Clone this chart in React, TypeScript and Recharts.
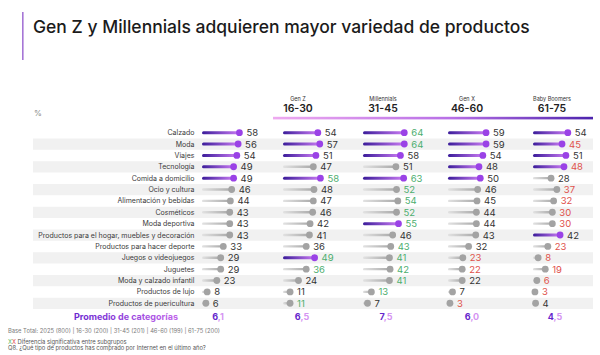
import React from 'react';
import { ComposedChart, Bar, XAxis, YAxis, ReferenceArea } from 'recharts';

// ---------------- data ----------------
const categories = [
  'Calzado',
  'Moda',
  'Viajes',
  'Tecnología',
  'Comida a domicilio',
  'Ocio y cultura',
  'Alimentación y bebidas',
  'Cosméticos',
  'Moda deportiva',
  'Productos para el hogar, muebles y decoración',
  'Productos para hacer deporte',
  'Juegos o videojuegos',
  'Juguetes',
  'Moda y calzado infantil',
  'Productos de lujo',
  'Productos de puericultura',
];
const totalValues = [58, 56, 54, 49, 49, 46, 44, 43, 43, 43, 33, 29, 29, 23, 8, 6];
const genZValues = [54, 57, 51, 47, 58, 48, 47, 46, 42, 41, 36, 49, 36, 24, 11, 11];
const millennialsValues = [64, 64, 58, 51, 63, 52, 54, 52, 55, 46, 43, 41, 42, 41, 13, 7];
const genXValues = [59, 59, 54, 48, 50, 46, 45, 44, 44, 43, 32, 23, 22, 22, 7, 3];
const boomersValues = [54, 45, 51, 48, 28, 37, 32, 30, 30, 42, 23, 8, 19, 6, 3, 4];

// significance: 1 = higher (green), -1 = lower (red), 0 = none
const totalSig = [0, 0, 0, 0, 0, 0, 0, 0, 0, 0, 0, 0, 0, 0, 0, 0];
const genZSig = [0, 0, 0, 0, 1, 0, 0, 0, 0, 0, 0, 1, 1, 0, 0, 1];
const millennialsSig = [1, 1, 0, 0, 1, 1, 1, 1, 1, 0, 1, 1, 1, 1, 1, 0];
const genXSig = [0, 0, 0, 0, 0, 0, 0, 0, 0, 0, 0, -1, -1, 0, 0, -1];
const boomersSig = [0, -1, 0, -1, 0, -1, -1, -1, -1, 0, -1, -1, -1, -1, -1, 0];

const groupNames = ['Gen Z', 'Millennials', 'Gen X', 'Baby Boomers'];
const groupAges = ['16-30', '31-45', '46-60', '61-75'];
const averages = ['6,1', '6,5', '7,5', '6,0', '4,5'];

// ---------------- layout ----------------
const W = 600;
const H = 355;
const PLOT_LEFT = 202;
const PLOT_RIGHT = 597;
const K = 0.645; // px per percentage point
const panelStarts = [202, 283, 363, 448, 533];
const headerCenters = [298, 383, 467, 552];
const avgCenters = [218, 302, 386, 472, 555];
const BAND_LEFT = 33;
const BAND_RIGHT = 593;
const FONT = 'Inter, "Noto Sans", sans-serif';

const domainFor = (s: number): [number, number] => [
  -(s - PLOT_LEFT) / K,
  (PLOT_RIGHT - s) / K,
];

const topFive = (vals: number[]) => {
  const idx = vals.map((v, i) => i).sort((a, b) => vals[b] - vals[a]);
  return new Set(idx.slice(0, 5));
};

const series = [
  { key: 'total', values: totalValues, sig: totalSig },
  { key: 'genZ', values: genZValues, sig: genZSig },
  { key: 'millennials', values: millennialsValues, sig: millennialsSig },
  { key: 'genX', values: genXValues, sig: genXSig },
  { key: 'boomers', values: boomersValues, sig: boomersSig },
];

const data = categories.map((name, i) => {
  const row: any = { name };
  series.forEach((s) => (row[s.key] = s.values[i]));
  return row;
});

const sigColor = (s: number) => (s > 0 ? '#4cae6e' : s < 0 ? '#e0514b' : '#333333');

const makeShape = (s: { key: string; values: number[]; sig: number[] }) => {
  const hl = topFive(s.values);
  return (props: any) => {
    const { x, y, width, height, payload } = props;
    let index = props.index;
    if (index === undefined || index === null) index = categories.indexOf(payload?.name);
    const cy = y + height / 2;
    const end = x + width;
    const on = hl.has(index);
    const th = on ? 3 : 2.4;
    return (
      <g>
        <rect
          x={x}
          y={cy - th / 2}
          width={Math.max(width, 0.1)}
          height={th}
          fill={on ? 'url(#gPurple)' : 'url(#gGray)'}
          rx={th / 2}
        />
        <circle cx={end} cy={cy} r={3.4} fill={on ? '#9a42e6' : '#a3a3a3'} />
        <text
          x={end + 7}
          y={cy}
          dominantBaseline="central"
          fontSize={9.5}
          fontFamily={FONT}
          fill={sigColor(s.sig[index])}
        >
          {s.values[index]}
        </text>
      </g>
    );
  };
};

const CategoryTick = (props: any) => {
  const { x, y, payload } = props;
  return (
    <text
      x={x}
      y={y}
      dx={-1.5}
      textAnchor="end"
      dominantBaseline="central"
      fontSize={7}
      fontFamily={FONT}
      fill="#3a3a3a"
    >
      {payload.value}
    </text>
  );
};

const Overlay = () => (
  <svg
    width={W}
    height={H}
    style={{ position: 'absolute', left: 0, top: 0 }}
    fontFamily={FONT}
  >
    <defs>
      <linearGradient id="gHeader" x1="0" y1="0" x2="1" y2="0">
        <stop offset="0%" stopColor="#eeaaf0" />
        <stop offset="55%" stopColor="#b870e6" />
        <stop offset="100%" stopColor="#4d24ad" />
      </linearGradient>
      <linearGradient id="gPromedio" x1="0" y1="0" x2="1" y2="0">
        <stop offset="0%" stopColor="#6a26cf" />
        <stop offset="100%" stopColor="#c064ea" />
      </linearGradient>
    </defs>
    <rect x={22} y={12} width={1.6} height={48} fill="#a676d6" />
    <text x={33} y={26.5} dominantBaseline="central" fontSize={17.5} fontWeight={500} fill="#1b1b1b">
      Gen Z y Millennials adquieren mayor variedad de productos
    </text>
    <text x={34} y={113} dominantBaseline="central" fontSize={8} fill="#8a8a8a">
      %
    </text>
    {groupNames.map((g, i) => (
      <g key={g}>
        <text x={headerCenters[i]} y={99} textAnchor="middle" dominantBaseline="central" fontSize={5.5} fill="#333">
          {g}
        </text>
        <text
          x={headerCenters[i]}
          y={108.5}
          textAnchor="middle"
          dominantBaseline="central"
          fontSize={10.5}
          fontWeight={600}
          fill="#222"
        >
          {groupAges[i]}
        </text>
      </g>
    ))}
    <rect x={273} y={116.8} width={320} height={2.6} fill="url(#gHeader)" />
    <text
      x={178}
      y={316}
      textAnchor="end"
      dominantBaseline="central"
      fontSize={9}
      fontWeight={700}
      fill="url(#gPromedio)"
    >
      Promedio de categorías
    </text>
    {averages.map((a, i) => {
      const [intPart, dec] = a.split(',');
      return (
        <text
          key={i}
          x={avgCenters[i]}
          y={316}
          textAnchor="middle"
          dominantBaseline="central"
          fontSize={9}
          fontWeight={700}
        >
          <tspan fill="#6526cc">{intPart}</tspan>
          <tspan fill="#d594f2">{',' + dec}</tspan>
        </text>
      );
    })}
    <text x={8} y={330} dominantBaseline="central" fontSize={5.8} fill="#7a7a7a">
      Base Total: 2025 (800) | 16-30 (200) | 31-45 (201) | 46-60 (199) | 61-75 (200)
    </text>
    <text x={8} y={340.5} dominantBaseline="central" fontSize={5.8} fill="#555">
      <tspan fill="#5cb85c">X</tspan>
      <tspan fill="#e04444">X</tspan>
      <tspan> Diferencia significativa entre subgrupos</tspan>
    </text>
    <text x={8} y={347.5} dominantBaseline="central" fontSize={5.8} fill="#555">
      Q8. ¿Qué tipo de productos has comprado por Internet en el último año?
    </text>
  </svg>
);

export default function App() {
  return (
    <div
      style={{
        position: 'absolute',
        left: 0,
        top: 0,
        width: W,
        height: H,
        background: '#ffffff',
        overflow: 'hidden',
        fontFamily: FONT,
      }}
    >
      <Overlay />
      <div style={{ position: 'absolute', left: 0, top: 0 }}>
        <ComposedChart
          width={W}
          height={H}
          data={data}
          layout="vertical"
          margin={{ top: 127, right: W - PLOT_RIGHT, bottom: 46, left: 0 }}
        >
          <defs>
            <linearGradient id="gPurple" x1="0" y1="0" x2="1" y2="0">
              <stop offset="0%" stopColor="#3b1c9a" />
              <stop offset="100%" stopColor="#c879f2" />
            </linearGradient>
            <linearGradient id="gGray" x1="0" y1="0" x2="1" y2="0">
              <stop offset="0%" stopColor="#e2e2e2" />
              <stop offset="100%" stopColor="#a9a9a9" />
            </linearGradient>
          </defs>
          {series.map((s, i) => (
            <XAxis
              key={s.key}
              xAxisId={s.key}
              type="number"
              domain={domainFor(panelStarts[i])}
              allowDataOverflow
              hide
            />
          ))}
          <YAxis
            yAxisId="total"
            type="category"
            dataKey="name"
            width={PLOT_LEFT}
            axisLine={false}
            tickLine={false}
            tickSize={0}
            tickMargin={6}
            interval={0}
            tick={<CategoryTick />}
          />
          {series.slice(1).map((s) => (
            <YAxis
              key={s.key}
              yAxisId={s.key}
              type="category"
              dataKey="name"
              width={0}
              orientation="right"
              hide
            />
          ))}
          {categories.map((c, i) =>
            i % 2 === 1 ? (
              <ReferenceArea
                key={c}
                xAxisId="total"
                yAxisId="total"
                x1={-(PLOT_LEFT - BAND_LEFT) / K}
                x2={(BAND_RIGHT - PLOT_LEFT) / K}
                y1={c}
                y2={c}
                ifOverflow="visible"
                fill="#f1f1f1"
                fillOpacity={1}
                stroke="none"
              />
            ) : null
          )}
          {series.map((s) => (
            <Bar
              key={s.key}
              dataKey={s.key}
              xAxisId={s.key}
              yAxisId={s.key}
              isAnimationActive={false}
              shape={makeShape(s)}
            />
          ))}
        </ComposedChart>
      </div>
    </div>
  );
}
